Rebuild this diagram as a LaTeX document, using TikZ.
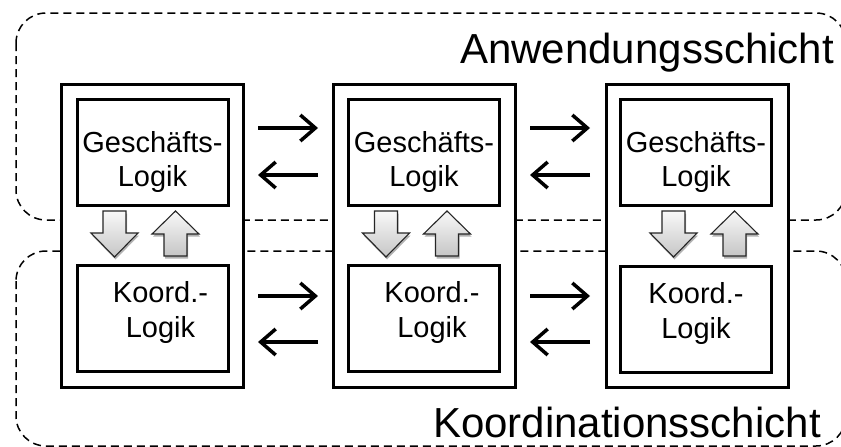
\documentclass[tikz,border=0pt]{standalone}
\usepackage{fontspec}
\setmainfont{Liberation Sans}
\usetikzlibrary{arrows.meta,shadows}
\begin{document}
\begin{tikzpicture}[x=1pt,y=-1pt,
  outerbox/.style={draw,line width=3pt,fill=white,minimum width=182pt,minimum height=303pt,inner sep=0pt},
  innerbox/.style={draw,line width=3pt,minimum width=151pt,minimum height=106pt,inner sep=0pt},
  lyr/.style={draw,dash pattern=on 8pt off 5pt,line width=1.5pt,rounded corners=30pt},
  lbl/.style={font=\fontsize{29}{33}\selectfont,anchor=base,inner sep=0pt},
  ttl/.style={font=\fontsize{42}{50}\selectfont,anchor=base west,inner sep=0pt},
  flow/.style={line width=3.5pt,-{Straight Barb[length=15pt,width=26pt,line width=3.5pt]}},
  blk/.style={draw=black!85,line width=1.1pt,top color=gray!5,bottom color=gray!45,
    drop shadow={shadow xshift=1pt,shadow yshift=-2.5pt,opacity=0.3,fill=black}},
  downarr/.pic={\path[blk] (-11.5,0) -- (11.5,0) -- (11.5,22) -- (23.5,22) -- (0,46) -- (-23.5,22) -- (-11.5,22) -- cycle;},
  uparr/.pic={\path[blk] (0,0) -- (23.5,23) -- (11.5,23) -- (11.5,45) -- (-11.5,45) -- (-11.5,23) -- (-23.5,23) -- cycle;},
]
\useasboundingbox (0,0) rectangle (841,447);

% layers
\draw[lyr] (16,13) rectangle (846,220);
\draw[lyr] (16,251) rectangle (846,446);
\node[ttl] (t1) at (460,63) {Anwendungsschicht};
\node[ttl] (t2) at (433,437) {Koordinationsschicht};

% columns
\node[outerbox] (c1) at (152,235.5) {};
\node[outerbox] (c2) at (424.5,235.5) {};
\node[outerbox] (c3) at (697,235.5) {};

\node[innerbox] (g1) at (152.5,152) {};
\node[innerbox] (g2) at (424,152) {};
\node[innerbox] (g3) at (696,152) {};
\node[innerbox] (k1) at (152.5,318) {};
\node[innerbox] (k2) at (424,318) {};
\node[innerbox] (k3) at (696,319) {};

\node[lbl] (g1a) at (152.5,152) {Geschäfts-};
\node[lbl] (g1b) at (152.5,186) {Logik};
\node[lbl] (g2a) at (424,152) {Geschäfts-};
\node[lbl] (g2b) at (424,186) {Logik};
\node[lbl] (g3a) at (696,152) {Geschäfts-};
\node[lbl] (g3b) at (696,186) {Logik};
\node[lbl] (k1a) at (160.5,302) {Koord.-};
\node[lbl] (k1b) at (160.5,337) {Logik};
\node[lbl] (k2a) at (432,302) {Koord.-};
\node[lbl] (k2b) at (432,337) {Logik};
\node[lbl] (k3a) at (696,303) {Koord.-};
\node[lbl] (k3b) at (696,338) {Logik};

% block arrows
\pic at (114.5,211) {downarr};
\pic at (175.5,211) {uparr};
\pic at (386,211) {downarr};
\pic at (447,211) {uparr};
\pic at (673.5,211) {downarr};
\pic at (734.5,211) {uparr};

% message arrows
\coordinate (p1) at (258,128); \coordinate (q1) at (318,128);
\coordinate (p2) at (258,175); \coordinate (q2) at (318,175);
\coordinate (p3) at (258,296); \coordinate (q3) at (318,296);
\coordinate (p4) at (258,342); \coordinate (q4) at (318,342);
\coordinate (r1) at (530,128); \coordinate (s1) at (590,128);
\coordinate (r2) at (530,175); \coordinate (s2) at (590,175);
\coordinate (r3) at (530,296); \coordinate (s3) at (590,296);
\coordinate (r4) at (530,342); \coordinate (s4) at (590,342);
\draw[flow] (p1) -- (q1);
\draw[flow] (q2) -- (p2);
\draw[flow] (p3) -- (q3);
\draw[flow] (q4) -- (p4);
\draw[flow] (r1) -- (s1);
\draw[flow] (s2) -- (r2);
\draw[flow] (r3) -- (s3);
\draw[flow] (s4) -- (r4);
\end{tikzpicture}
\end{document}
